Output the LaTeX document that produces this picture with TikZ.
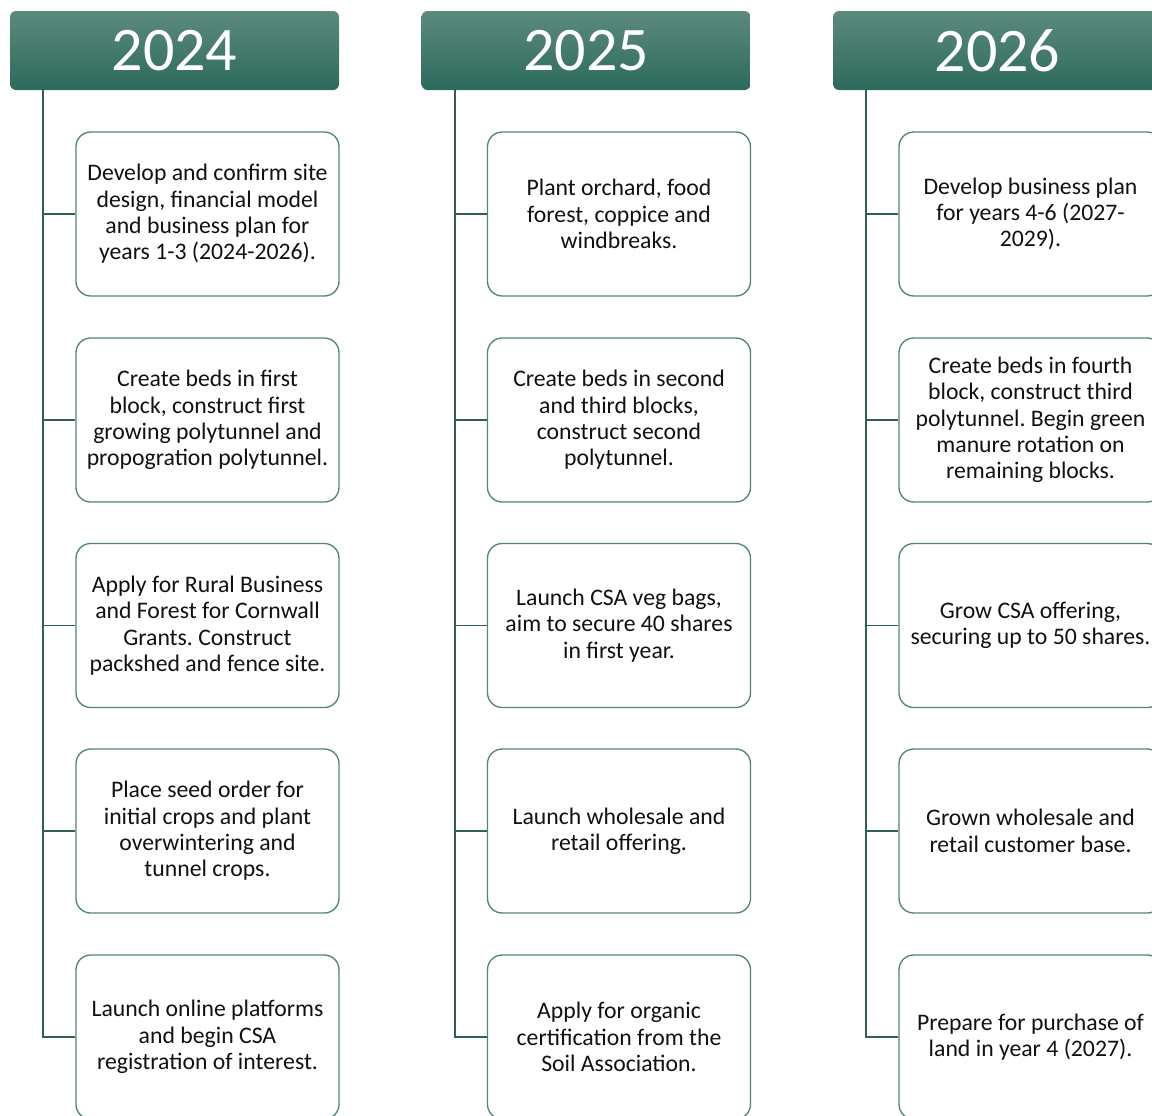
\documentclass[tikz,border=0pt]{standalone}
\usepackage{fontspec}
\setmainfont{Carlito}
\frenchspacing
\definecolor{hdtop}{HTML}{5C8A7E}
\definecolor{hdbot}{HTML}{2C6B5C}
\definecolor{boxline}{HTML}{4F8677}
\definecolor{spine}{HTML}{2F5F55}
\definecolor{txt}{HTML}{111111}
\tikzset{
  yearhead/.style={rectangle, rounded corners=4.5pt, top color=hdtop, bottom color=hdbot,
    draw=none, minimum width=246.75pt, minimum height=59.25pt, inner sep=0pt,
    text=white, font=\fontsize{46.5}{50}\selectfont},
  stepbox/.style={rectangle, rounded corners=11pt, draw=boxline, line width=1pt, fill=white,
    minimum width=197.25pt, minimum height=123pt, inner sep=0pt, align=center,
    text=txt, font=\fontsize{17.8}{19.75}\selectfont},
  conn/.style={draw=spine, line width=1.1pt}
}
\begin{document}
\begin{tikzpicture}[x=0.75pt,y=-0.75pt]
\useasboundingbox (0,0) rectangle (1152,1115);
\clip (0,0) rectangle (1152,1115);

% year headers
\node[yearhead] (h1) at (174.5,50.5) {2024};
\node[yearhead] (h2) at (586,50.5) {2025};
\node[yearhead] (h3) at (997.5,50.5) {2026};

% spine positions
\coordinate (s1) at (43,0);
\coordinate (s2) at (455,0);
\coordinate (s3) at (866,0);

% 2024
\node[stepbox] (a1) at (207.5,214) {Develop and confirm site\\design, financial model\\and business plan for\\years 1-3 (2024-2026).};
\node[stepbox] (a2) at (207.5,420) {Create beds in first\\block, construct first\\growing polytunnel and\\propogration polytunnel.};
\node[stepbox] (a3) at (207.5,625.5) {Apply for Rural Business\\and Forest for Cornwall\\Grants. Construct\\packshed and fence site.};
\node[stepbox] (a4) at (207.5,831) {Place seed order for\\initial crops and plant\\overwintering and\\tunnel crops.};
\node[stepbox] (a5) at (207.5,1037) {Launch online platforms\\and begin CSA\\registration of interest.};

% 2025
\node[stepbox] (b1) at (619,214) {Plant orchard, food\\forest, coppice and\\windbreaks.};
\node[stepbox] (b2) at (619,420) {Create beds in second\\and third blocks,\\construct second\\polytunnel.};
\node[stepbox] (b3) at (619,625.5) {Launch CSA veg bags,\\aim to secure 40 shares\\in first year.};
\node[stepbox] (b4) at (619,831) {Launch wholesale and\\retail offering.};
\node[stepbox] (b5) at (619,1037) {Apply for organic\\certification from the\\Soil Association.};

% 2026
\node[stepbox] (c1) at (1030.5,214) {Develop business plan\\for years 4-6 (2027-\\2029).};
\node[stepbox] (c2) at (1030.5,420) {Create beds in fourth\\block, construct third\\polytunnel. Begin green\\manure rotation on\\remaining blocks.};
\node[stepbox] (c3) at (1030.5,625.5) {Grow CSA offering,\\securing up to 50 shares.};
\node[stepbox] (c4) at (1030.5,831) {Grown wholesale and\\retail customer base.};
\node[stepbox] (c5) at (1030.5,1037) {Prepare for purchase of\\land in year 4 (2027).};

% spines and branches
\foreach \h/\s/\c in {h1/s1/a, h2/s2/b, h3/s3/c}{
  \draw[conn] (\h.south -| \s) |- (\c5.west);
  \foreach \i in {1,2,3,4}{
    \draw[conn] (\c\i.west) -- (\c\i.west -| \s);
  }
}
\end{tikzpicture}
\end{document}
